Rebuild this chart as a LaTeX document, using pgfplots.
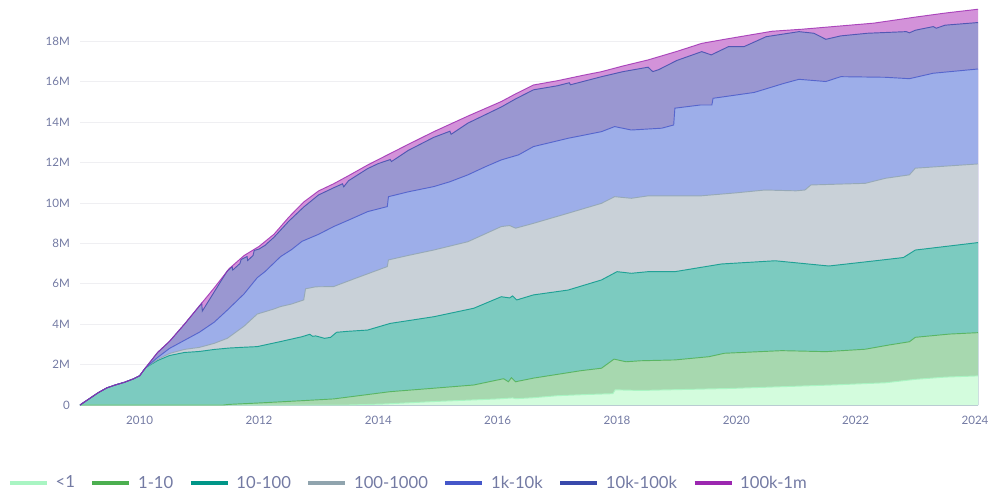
\documentclass[border=0pt]{standalone}
\usepackage{fontspec}
\setmainfont{Lato}
\usepackage{pgfplots}
\usepackage{pgfplotstable}
\pgfplotsset{compat=1.18}

\definecolor{fP}{HTML}{D392D9}
\definecolor{fD}{HTML}{9A97D1}
\definecolor{fB}{HTML}{9DAEE9}
\definecolor{fS}{HTML}{C9D1D8}
\definecolor{fT}{HTML}{7CCBC0}
\definecolor{fG}{HTML}{A7D8AF}
\definecolor{fM}{HTML}{D3FCDD}
\definecolor{lP}{HTML}{9C27B0}
\definecolor{lD}{HTML}{3949AB}
\definecolor{lB}{HTML}{4557C9}
\definecolor{lS}{HTML}{90A4AE}
\definecolor{lT}{HTML}{009688}
\definecolor{lG}{HTML}{4CAF50}
\definecolor{lM}{HTML}{A9F5C3}
\definecolor{ctext}{HTML}{737AA3}
\definecolor{cgrid}{HTML}{EFEFF2}
\definecolor{caxis}{HTML}{D2D4DC}

% cumulative top of each band, in millions
\pgfplotstableread{
x y
2009.00 0
2009.15 0.30
2009.30 0.60
2009.45 0.85
2009.60 1.00
2009.75 1.13
2009.90 1.30
2010.00 1.45
2010.10 1.85
2010.30 2.60
2010.50 3.15
2010.75 4.00
2011.00 4.90
2011.25 5.80
2011.50 6.75
2011.75 7.40
2012.00 7.85
2012.25 8.45
2012.50 9.30
2012.75 10.05
2013.00 10.60
2013.25 10.95
2013.50 11.35
2013.82 11.88
2014.00 12.15
2014.50 12.90
2014.93 13.53
2015.50 14.30
2016.06 15.02
2016.30 15.40
2016.60 15.84
2017.00 16.05
2017.40 16.30
2017.74 16.50
2018.10 16.78
2018.52 17.08
2019.00 17.50
2019.42 17.90
2019.80 18.10
2020.20 18.30
2020.60 18.50
2021.10 18.60
2021.70 18.75
2022.30 18.90
2023.00 19.20
2023.50 19.40
2024.05 19.59
}\tP

\pgfplotstableread{
x y
2009.00 0
2009.15 0.30
2009.30 0.60
2009.45 0.85
2009.60 1.00
2009.75 1.13
2009.90 1.30
2010.00 1.45
2010.10 1.85
2010.30 2.60
2010.50 3.15
2010.75 4.00
2011.00 4.90
2011.04 5.04
2011.05 4.65
2011.45 6.55
2011.47 6.64
2011.55 6.85
2011.56 6.68
2011.68 7.00
2011.70 7.20
2011.80 7.35
2011.81 7.15
2011.90 7.40
2011.92 7.65
2012.00 7.72
2012.10 7.90
2012.25 8.30
2012.50 9.10
2012.75 9.80
2013.00 10.40
2013.25 10.75
2013.40 10.95
2013.42 10.80
2013.50 11.10
2013.82 11.70
2014.00 11.95
2014.20 12.15
2014.22 12.05
2014.50 12.60
2014.93 13.25
2015.20 13.55
2015.22 13.40
2015.50 13.95
2016.06 14.75
2016.30 15.15
2016.60 15.60
2017.00 15.80
2017.20 15.95
2017.22 15.85
2017.74 16.25
2018.10 16.50
2018.52 16.72
2018.60 16.50
2018.70 16.60
2019.00 17.05
2019.42 17.49
2019.58 17.33
2019.87 17.74
2020.13 17.74
2020.50 18.23
2021.05 18.48
2021.30 18.40
2021.50 18.10
2021.75 18.27
2022.20 18.40
2022.85 18.48
2022.90 18.42
2023.00 18.55
2023.30 18.73
2023.35 18.65
2023.50 18.80
2024.05 18.93
}\tD

\pgfplotstableread{
x y
2009.00 0
2009.15 0.30
2009.30 0.60
2009.45 0.85
2009.60 1.00
2009.75 1.13
2009.90 1.30
2010.00 1.45
2010.10 1.85
2010.30 2.35
2010.50 2.80
2010.75 3.20
2011.00 3.60
2011.25 4.10
2011.47 4.70
2011.75 5.50
2011.97 6.30
2012.10 6.60
2012.36 7.34
2012.55 7.70
2012.72 8.10
2013.00 8.45
2013.25 8.83
2013.50 9.15
2013.82 9.57
2014.15 9.82
2014.17 10.31
2014.50 10.55
2014.93 10.81
2015.20 11.05
2015.50 11.39
2015.80 11.80
2016.06 12.13
2016.35 12.38
2016.60 12.79
2017.18 13.20
2017.74 13.53
2017.96 13.78
2018.24 13.61
2018.75 13.70
2018.95 13.86
2018.97 14.69
2019.40 14.85
2019.59 14.85
2019.61 15.18
2020.30 15.47
2020.80 15.92
2021.05 16.12
2021.50 16.01
2021.75 16.25
2022.50 16.22
2022.90 16.15
2023.30 16.42
2024.05 16.63
}\tB

\pgfplotstableread{
x y
2009.00 0
2009.15 0.30
2009.30 0.60
2009.45 0.85
2009.60 1.00
2009.75 1.13
2009.90 1.30
2010.00 1.45
2010.10 1.85
2010.30 2.25
2010.50 2.55
2010.75 2.75
2011.00 2.85
2011.25 3.05
2011.47 3.30
2011.75 3.90
2011.97 4.50
2012.25 4.75
2012.36 4.87
2012.55 5.00
2012.75 5.20
2012.78 5.75
2012.95 5.85
2013.25 5.86
2013.60 6.25
2014.15 6.85
2014.17 7.18
2014.50 7.40
2014.93 7.67
2015.50 8.08
2016.06 8.83
2016.20 8.88
2016.30 8.75
2016.60 8.99
2017.18 9.49
2017.74 9.98
2017.96 10.31
2018.24 10.23
2018.52 10.35
2019.40 10.35
2020.00 10.50
2020.48 10.64
2021.00 10.60
2021.15 10.64
2021.25 10.89
2022.16 10.97
2022.50 11.22
2022.90 11.39
2023.00 11.72
2024.05 11.93
}\tS

\pgfplotstableread{
x y
2009.00 0
2009.15 0.30
2009.30 0.60
2009.45 0.85
2009.60 1.00
2009.75 1.13
2009.90 1.30
2010.00 1.45
2010.10 1.85
2010.30 2.20
2010.50 2.45
2010.75 2.60
2011.00 2.65
2011.25 2.75
2011.50 2.82
2011.75 2.86
2011.97 2.89
2012.36 3.14
2012.72 3.38
2012.85 3.50
2012.90 3.40
2012.95 3.42
2013.10 3.30
2013.20 3.35
2013.30 3.60
2013.50 3.65
2013.82 3.71
2014.20 4.04
2014.93 4.37
2015.60 4.79
2016.06 5.36
2016.20 5.30
2016.25 5.40
2016.32 5.20
2016.60 5.45
2017.18 5.69
2017.74 6.19
2018.00 6.60
2018.24 6.52
2018.52 6.60
2018.97 6.60
2019.75 6.98
2020.65 7.14
2021.55 6.88
2022.45 7.18
2022.80 7.30
2023.00 7.67
2024.05 8.04
}\tT

\pgfplotstableread{
x y
2009.00 0
2011.40 0
2011.50 0.03
2012.00 0.10
2012.70 0.21
2013.25 0.30
2014.20 0.66
2014.93 0.83
2015.60 0.99
2016.00 1.24
2016.10 1.30
2016.18 1.15
2016.23 1.35
2016.30 1.15
2016.60 1.33
2017.40 1.70
2017.74 1.82
2017.95 2.27
2018.15 2.14
2018.40 2.19
2018.97 2.23
2019.54 2.39
2019.80 2.56
2020.76 2.69
2021.50 2.64
2022.16 2.76
2022.56 2.97
2022.90 3.13
2023.00 3.35
2023.57 3.51
2024.05 3.58
}\tG

\pgfplotstableread{
x y
2009.00 0
2013.50 0
2014.10 0.05
2015.00 0.18
2016.00 0.30
2016.25 0.35
2016.30 0.31
2016.60 0.36
2017.00 0.46
2017.50 0.52
2017.93 0.56
2017.97 0.75
2018.40 0.72
2019.92 0.82
2021.60 0.99
2022.50 1.10
2023.00 1.27
2023.50 1.38
2024.05 1.44
}\tM

\begin{document}
\begin{tikzpicture}
\begin{axis}[
  name=main,
  scale only axis,
  width=673.5pt, height=297pt,
  xmin=2009, xmax=2024.05,
  ymin=0, ymax=19.6,
  xtick={2010,2012,2014,2016,2018,2020,2022,2024},
  xticklabels={2010,2012,2014,2016,2018,2020,2022,2024},
  ytick={0,2,4,6,8,10,12,14,16,18},
  yticklabels={0,2M,4M,6M,8M,10M,12M,14M,16M,18M},
  /pgf/number format/assume math mode=true,
  ticklabel style={font=\fontsize{8.7}{10}\selectfont, text=ctext},
  xticklabel style={yshift=-4.5pt},
  yticklabel style={xshift=-4pt},
  major tick length=0pt,
  ymajorgrids,
  grid style={draw=cgrid, line width=0.6pt},
  axis lines*=left,
  axis line style={-},
  y axis line style={draw=none},
  x axis line style={draw=caxis, line width=0.9pt},
  legend columns=7,
  legend style={at={(0,0)}, anchor=west, xshift=-54pt, yshift=-58.5pt,
    draw=none, fill=none, inner sep=0pt, outer sep=0pt,
    font=\fontsize{12.5}{14}\selectfont, text=ctext,
    /tikz/every odd column/.append style={column sep=5pt},
    /tikz/every even column/.append style={column sep=11.6pt},
    nodes={inner sep=0pt}},
  legend image code/.code={\draw[#1, line width=3pt] (0pt,0pt) -- (27.75pt,0pt);},
]
\addlegendimage{draw=lM}\addlegendentry{<1}
\addlegendimage{draw=lG}\addlegendentry{1-10}
\addlegendimage{draw=lT}\addlegendentry{10-100}
\addlegendimage{draw=lS}\addlegendentry{100-1000}
\addlegendimage{draw=lB}\addlegendentry{1k-10k}
\addlegendimage{draw=lD}\addlegendentry{10k-100k}
\addlegendimage{draw=lP}\addlegendentry{100k-1m}

\addplot[fill=fP, draw=none, forget plot] table[x=x,y=y] {\tP} \closedcycle;
\addplot[fill=fD, draw=none, forget plot] table[x=x,y=y] {\tD} \closedcycle;
\addplot[fill=fB, draw=none, forget plot] table[x=x,y=y] {\tB} \closedcycle;
\addplot[fill=fS, draw=none, forget plot] table[x=x,y=y] {\tS} \closedcycle;
\addplot[fill=fT, draw=none, forget plot] table[x=x,y=y] {\tT} \closedcycle;
\addplot[fill=fG, draw=none, forget plot] table[x=x,y=y] {\tG} \closedcycle;
\addplot[fill=fM, draw=none, forget plot] table[x=x,y=y] {\tM} \closedcycle;

\addplot[draw=lM, line width=0.7pt, forget plot] table[x=x,y=y] {\tM};
\addplot[draw=lG, line width=0.7pt, opacity=0.8, forget plot] table[x=x,y=y] {\tG};
\addplot[draw=lT, line width=0.7pt, opacity=0.8, forget plot] table[x=x,y=y] {\tT};
\addplot[draw=lS, line width=0.7pt, opacity=0.8, forget plot] table[x=x,y=y] {\tS};
\addplot[draw=lB, line width=0.7pt, opacity=0.8, forget plot] table[x=x,y=y] {\tB};
\addplot[draw=lD, line width=0.7pt, opacity=0.8, forget plot] table[x=x,y=y] {\tD};
\addplot[draw=lP, line width=0.7pt, opacity=0.8, forget plot] table[x=x,y=y] {\tP};
\end{axis}
\path ([shift={(-60pt,-71.25pt)}]main.south west) rectangle ++(747.75pt,375pt);
\end{tikzpicture}
\end{document}
